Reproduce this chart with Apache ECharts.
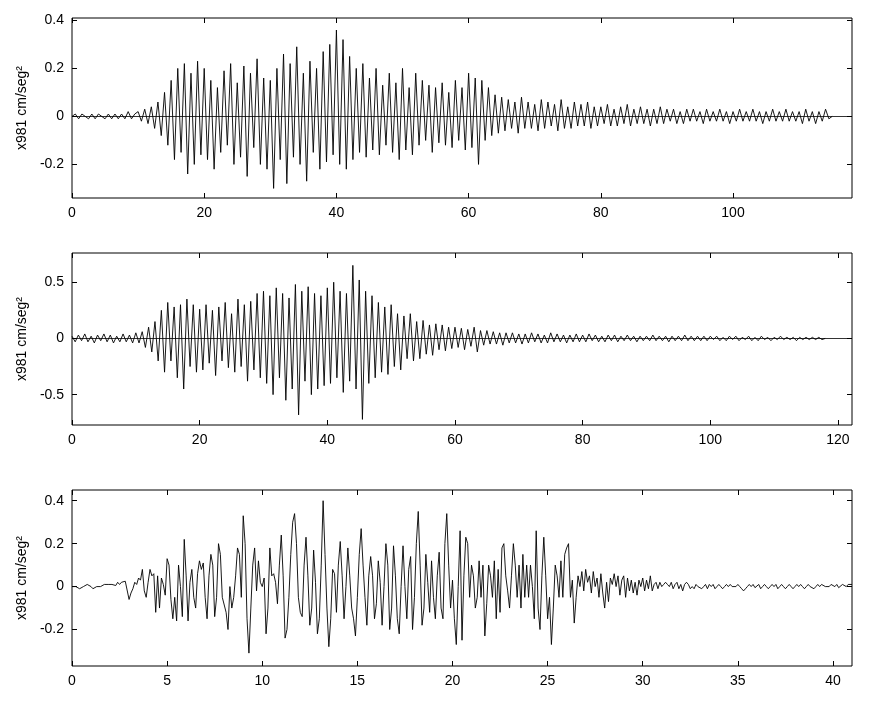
<!DOCTYPE html>
<html>
<head>
<meta charset="utf-8">
<script src="https://cdn.jsdelivr.net/npm/echarts@6/dist/echarts.min.js"></script>
<style>
  html, body { margin: 0; padding: 0; background: #fff; }
  #main { width: 870px; height: 721px; }
</style>
</head>
<body>
<div id="main"></div>
<script>
// record 1, sampled every 0.5 s
var dt1 = 0.5;
var rec1 = [
  0,0.01,-0.01,0.01,0,-0.01,0.01,-0.01,0.01,0,-0.01,0.01,-0.01,0.01,-0.01,0.01,-0.01,0.02,-0.01,0.01,
  0.02,-0.02,0.03,-0.03,0.04,-0.05,0.06,-0.08,0.1,-0.12,0.15,-0.18,0.2,-0.15,0.22,-0.24,0.18,-0.2,0.23,-0.16,
  0.2,-0.18,0.15,-0.22,0.12,-0.15,0.19,-0.12,0.22,-0.2,0.14,-0.17,0.21,-0.25,0.18,-0.13,0.24,-0.2,0.16,-0.22,
  0.15,-0.3,0.2,-0.18,0.26,-0.28,0.22,-0.17,0.29,-0.2,0.18,-0.27,0.23,-0.15,0.2,-0.22,0.27,-0.19,0.3,-0.16,
  0.36,-0.2,0.32,-0.22,0.25,-0.18,0.2,-0.15,0.22,-0.17,0.16,-0.14,0.2,-0.16,0.13,-0.12,0.18,-0.15,0.14,-0.18,
  0.2,-0.14,0.12,-0.16,0.18,-0.12,0.15,-0.1,0.13,-0.15,0.12,-0.11,0.14,-0.12,0.1,-0.13,0.15,-0.1,0.12,-0.14,
  0.18,-0.13,0.16,-0.2,0.15,-0.1,0.12,-0.08,0.09,-0.07,0.08,-0.06,0.07,-0.05,0.06,-0.07,0.08,-0.05,0.06,-0.05,
  0.05,-0.06,0.07,-0.05,0.06,-0.04,0.05,-0.06,0.07,-0.05,0.04,-0.05,0.06,-0.04,0.05,-0.04,0.06,-0.05,0.04,-0.04,
  0.04,-0.03,0.05,-0.04,0.03,-0.04,0.04,-0.03,0.05,-0.04,0.03,-0.03,0.04,-0.03,0.03,-0.04,0.03,-0.03,0.04,-0.03,
  0.03,-0.02,0.03,-0.03,0.02,-0.03,0.03,-0.02,0.03,-0.02,0.02,-0.03,0.03,-0.02,0.02,-0.02,0.03,-0.02,0.02,-0.03,
  0.02,-0.02,0.03,-0.02,0.02,-0.02,0.03,-0.02,0.02,-0.03,0.02,-0.02,0.03,-0.02,0.02,-0.02,0.03,-0.02,0.02,-0.02,
  0.02,-0.03,0.03,-0.02,0.02,-0.03,0.02,-0.02,0.03,-0.01,0
];

// record 2, sampled every 0.5 s
var dt2 = 0.5;
var rec2 = [
  0.02,-0.03,0.03,-0.02,0.04,-0.03,0.02,-0.04,0.03,-0.02,0.04,-0.03,0.03,-0.04,0.02,-0.03,0.04,-0.03,0.03,-0.04,
  0.05,-0.04,0.06,-0.08,0.1,-0.12,0.15,-0.2,0.25,-0.3,0.32,-0.2,0.28,-0.35,0.3,-0.45,0.35,-0.25,0.3,-0.3,
  0.26,-0.28,0.3,-0.22,0.25,-0.33,0.28,-0.2,0.32,-0.26,0.22,-0.3,0.35,-0.25,0.3,-0.38,0.33,-0.28,0.4,-0.35,
  0.42,-0.4,0.38,-0.5,0.45,-0.35,0.4,-0.55,0.36,-0.45,0.48,-0.68,0.42,-0.38,0.46,-0.5,0.4,-0.45,0.38,-0.42,
  0.45,-0.4,0.5,-0.35,0.42,-0.48,0.4,-0.38,0.65,-0.45,0.52,-0.72,0.42,-0.4,0.38,-0.35,0.32,-0.3,0.28,-0.32,
  0.3,-0.25,0.22,-0.28,0.2,-0.18,0.22,-0.2,0.15,-0.18,0.16,-0.14,0.12,-0.15,0.13,-0.1,0.12,-0.11,0.1,-0.09,
  0.1,-0.08,0.09,-0.1,0.08,-0.07,0.1,-0.12,0.07,-0.06,0.07,-0.05,0.06,-0.05,0.05,-0.06,0.05,-0.04,0.05,-0.04,
  0.04,-0.05,0.04,-0.04,0.05,-0.03,0.04,-0.04,0.03,-0.04,0.05,-0.03,0.04,-0.03,0.03,-0.04,0.03,-0.03,0.04,-0.03,
  0.03,-0.03,0.04,-0.02,0.03,-0.03,0.02,-0.03,0.03,-0.02,0.03,-0.03,0.02,-0.02,0.03,-0.02,0.02,-0.03,0.02,-0.02,
  0.02,-0.02,0.03,-0.02,0.02,-0.02,0.02,-0.03,0.02,-0.02,0.02,-0.02,0.03,-0.02,0.02,-0.02,0.02,-0.02,0.02,-0.02,
  0.02,-0.01,0.02,-0.02,0.01,-0.02,0.02,-0.01,0.02,-0.02,0.01,-0.01,0.02,-0.02,0.01,-0.02,0.02,-0.01,0.01,-0.02,
  0.01,-0.01,0.02,-0.01,0.01,-0.01,0.01,-0.02,0.01,-0.01,0.01,-0.01,0.01,-0.01,0.01,-0.01,0
];

// record 3, sampled every 0.1 s
var dt3 = 0.1;
var rec3 = [
  0,0.005,0,-0.005,-0.01,-0.005,0,0.005,0.01,0.005,
  0,-0.01,-0.005,0,0.005,0,0.005,0.01,0.005,0.01,
  0.005,0.01,0.015,0.005,0.02,0.01,0.02,0.015,0.025,0.03,
  -0.06,-0.03,-0.01,0.02,0.01,0.04,0.03,0.08,-0.02,-0.05,
  0.02,0.08,0.05,0.06,-0.12,0.05,-0.1,0.04,0.01,-0.04,
  0.13,0.1,-0.06,-0.15,-0.05,-0.16,0.1,0,-0.14,0.22,
  0.05,-0.16,0.02,0.08,-0.05,-0.1,0.06,0.12,0.08,0.11,
  -0.05,-0.15,0.05,0.15,0.1,-0.14,-0.05,0.2,0.15,-0.05,
  -0.05,-0.12,-0.2,0,-0.1,-0.05,0.05,0.18,0.15,-0.05,
  0.33,0.2,-0.15,-0.31,-0.1,0.1,0.18,-0.02,0.12,0.02,
  0,0.04,-0.22,-0.1,0.18,0.05,0.06,0.02,-0.08,0.1,
  0.24,0.05,-0.24,-0.2,-0.05,0.15,0.3,0.34,0.2,-0.05,
  -0.12,-0.14,0.1,0.23,0.05,-0.18,-0.1,0.17,0.02,-0.22,
  -0.15,0.1,0.4,0.15,-0.1,-0.28,-0.15,0.08,0.06,-0.12,
  0.1,0.21,0.05,-0.15,0,0.18,0.05,-0.1,-0.15,-0.23,
  -0.05,0.15,0.27,0.1,-0.05,-0.18,0.05,0.14,0.05,-0.15,
  -0.08,0.12,0.02,-0.18,0,0.2,0.1,-0.2,-0.1,0.19,
  0.05,-0.15,-0.22,0,0.19,0,-0.15,0.08,0.14,-0.2,
  -0.05,0.2,0.35,0.1,-0.18,-0.1,0.15,0.02,-0.12,0.12,
  -0.05,-0.15,0.05,0.16,-0.1,-0.15,0.2,0.34,0.1,-0.1,
  0.03,-0.15,-0.27,0,0.26,-0.25,0.05,0.23,0.2,-0.05,
  0.1,0.05,-0.1,-0.05,0.12,-0.05,0.1,-0.23,-0.08,0.1,
  0.05,-0.05,0.12,-0.15,0.08,-0.12,0.18,0.2,0.05,-0.02,
  -0.1,0.05,0.2,0.1,-0.05,0.1,-0.1,0.15,-0.05,0.1,
  -0.05,0.1,0,-0.15,0.26,-0.1,-0.2,0.05,0.23,0.05,
  -0.15,-0.05,-0.27,-0.1,0.1,0.05,-0.05,0.12,-0.05,0.15,
  0.18,0.2,-0.05,0.03,-0.17,-0.05,0.05,0,0.07,-0.02,
  0.08,0.02,0.05,-0.03,0.07,0,0.04,-0.05,0.06,-0.03,
  -0.1,0.02,-0.07,0.04,0.01,0.06,0,0.05,-0.04,0.03,
  0.05,-0.05,0.04,-0.02,0.03,-0.03,0.02,-0.04,0.03,0,
  0.04,-0.02,0.03,-0.01,0.05,-0.02,0.01,0.02,-0.01,0.02,
  0,0.01,0.02,0.01,0,0.02,-0.01,0.01,0.02,-0.01,
  0.01,-0.02,0.01,0.02,0.01,-0.01,0,-0.01,0.01,0,
  0,-0.01,0,0.01,-0.01,0.01,0,0.01,-0.01,0,
  0.01,0,-0.01,0,0.01,0,0.01,0,0.005,0,
  0.01,0,-0.01,-0.02,-0.01,0,0.01,0,0.01,-0.005,
  0,0.01,-0.01,0,0.01,0,-0.01,0,0.01,0,
  0.01,-0.01,0,0.01,0,-0.01,0,0.01,0,-0.01,
  0,0.01,0,0.01,0,-0.01,0,0.01,0,0,
  -0.01,0,0.01,0,0.01,0.005,0,-0.005,0,0.01,
  0.005,0,0.01,-0.005,0,0.01,0.005,0,0.01,0.005,
  0.01
];

var xTicks1 = [0, 20, 40, 60, 80, 100];
var yTicks1 = [-0.2, 0, 0.2, 0.4];
var xTicks2 = [0, 20, 40, 60, 80, 100, 120];
var yTicks2 = [-0.5, 0, 0.5];
var xTicks3 = [0, 5, 10, 15, 20, 25, 30, 35, 40];
var yTicks3 = [-0.2, 0, 0.2, 0.4];

var yName = 'x981 cm/seg\u00b2';

function toPoints(vals, dt) {
  return vals.map(function (v, i) { return [+(i * dt).toFixed(3), v]; });
}

var panels = [
  { top: 18, height: 180, xmax: 118, ymin: -0.34, ymax: 0.41, xt: xTicks1, yt: yTicks1, data: toPoints(rec1, dt1), zero: true },
  { top: 253, height: 172, xmax: 122.2, ymin: -0.77, ymax: 0.76, xt: xTicks2, yt: yTicks2, data: toPoints(rec2, dt2), zero: true },
  { top: 490, height: 176, xmax: 41, ymin: -0.37, ymax: 0.45, xt: xTicks3, yt: yTicks3, data: toPoints(rec3, dt3), zero: false }
];

var grid = [], xAxis = [], yAxis = [], series = [];
var lbl = { color: '#000', fontFamily: 'Liberation Sans', fontSize: 14 };

panels.forEach(function (p, k) {
  grid.push({ left: 72, right: 18, top: p.top, height: p.height, show: true,
    borderColor: '#000', borderWidth: 1, backgroundColor: '#fff' });
  [false, true].forEach(function (mirror) {
    xAxis.push({
      type: 'value', gridIndex: k, min: 0, max: p.xmax,
      position: mirror ? 'top' : 'bottom',
      axisLine: { show: false, onZero: false },
      splitLine: { show: false },
      axisTick: { show: true, inside: true, length: 5, customValues: p.xt, lineStyle: { color: '#000' } },
      axisLabel: Object.assign({ show: !mirror, margin: 8, customValues: p.xt }, lbl)
    });
    yAxis.push({
      type: 'value', gridIndex: k, min: p.ymin, max: p.ymax,
      position: mirror ? 'right' : 'left',
      name: mirror ? '' : yName, nameLocation: 'middle', nameGap: 42, nameRotate: 90,
      nameTextStyle: { color: '#000', fontFamily: 'Liberation Sans', fontSize: 14 },
      axisLine: { show: false, onZero: false },
      splitLine: { show: false },
      axisTick: { show: true, inside: true, length: 5, customValues: p.yt, lineStyle: { color: '#000' } },
      axisLabel: Object.assign({ show: !mirror, margin: 8, customValues: p.yt }, lbl)
    });
  });
  var s = {
    type: 'line', xAxisIndex: 2 * k, yAxisIndex: 2 * k, data: p.data,
    showSymbol: false, sampling: null, animation: false,
    lineStyle: { color: '#000', width: 0.9 }
  };
  if (p.zero) {
    s.markLine = { silent: true, symbol: 'none', label: { show: false },
      lineStyle: { color: '#000', width: 0.8, type: 'solid' }, data: [{ yAxis: 0 }] };
  }
  series.push(s);
});

var chart = echarts.init(document.getElementById('main'));
chart.setOption({ animation: false, grid: grid, xAxis: xAxis, yAxis: yAxis, series: series });
</script>
</body>
</html>
